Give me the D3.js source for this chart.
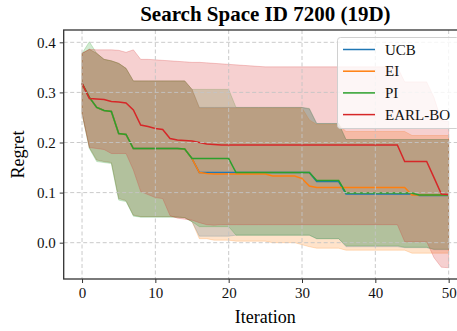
<!DOCTYPE html>
<html>
<head>
<meta charset="utf-8">
<script src="https://cdn.jsdelivr.net/npm/d3@7"></script>
<style>
  body { margin: 0; background: #fff; }
  svg { display: block; font-family: "Liberation Serif", "Times New Roman", serif; }
</style>
</head>
<body>
<svg id="chart" width="457" height="331"></svg>
<script>
// iterations 0..50
const iterations = d3.range(0, 51);
const xTicks = [0, 10, 20, 30, 40, 50];
const yTicks = [0.0, 0.1, 0.2, 0.3, 0.4];
const seriesNames = ['UCB', 'EI', 'PI', 'EARL-BO'];
const seriesColors = ['#1f77b4', '#ff7f0e', '#2ca02c', '#d62728'];

// mean regret per iteration
const ucbMean = [0.318,0.290,0.270,0.264,0.262,0.218,0.216,0.188,0.188,0.188,0.188,0.188,0.188,0.188,0.187,
  0.168,0.140,0.140,0.140,0.140,0.140,0.140,0.140,0.140,0.140,0.140,0.140,0.140,0.140,0.140,0.140,0.140,
  0.122,0.122,0.122,0.122,0.097,0.097,0.097,0.097,0.097,0.097,0.097,0.097,0.097,0.097,0.094,0.094,0.094,0.094,0.094];
const eiMean = [0.318,0.290,0.270,0.264,0.262,0.218,0.216,0.188,0.188,0.188,0.188,0.188,0.188,0.188,0.187,
  0.168,0.140,0.138,0.137,0.137,0.137,0.137,0.137,0.137,0.137,0.137,0.133,0.133,0.133,0.133,0.128,0.113,
  0.110,0.110,0.110,0.110,0.110,0.110,0.110,0.110,0.110,0.110,0.110,0.110,0.110,0.095,0.095,0.095,0.095,0.095,0.095];
const piMean = [0.318,0.290,0.270,0.264,0.262,0.218,0.216,0.188,0.188,0.188,0.188,0.188,0.188,0.188,0.187,
  0.168,0.168,0.168,0.168,0.168,0.168,0.140,0.140,0.140,0.140,0.140,0.140,0.140,0.140,0.140,0.140,0.140,
  0.124,0.124,0.124,0.124,0.099,0.099,0.099,0.099,0.099,0.099,0.099,0.099,0.099,0.099,0.095,0.095,0.095,0.095,0.095];
const earlMean = [0.318,0.288,0.287,0.286,0.282,0.281,0.279,0.265,0.235,0.232,0.228,0.226,0.208,0.205,0.204,
  0.203,0.200,0.197,0.196,0.195,0.195,0.195,0.195,0.195,0.195,0.195,0.195,0.195,0.195,0.195,0.195,0.195,
  0.195,0.195,0.195,0.195,0.195,0.195,0.195,0.195,0.195,0.195,0.195,0.195,0.162,0.162,0.162,0.162,0.130,0.097,0.096];

// upper edge of shaded band
const ucbHigh = [0.378,0.386,0.378,0.366,0.363,0.358,0.348,0.323,0.323,0.323,0.323,0.323,0.323,0.323,0.323,
  0.306,0.270,0.270,0.270,0.270,0.270,0.270,0.270,0.270,0.270,0.270,0.270,0.270,0.270,0.270,0.270,0.267,
  0.238,0.238,0.238,0.238,0.206,0.206,0.206,0.206,0.206,0.206,0.206,0.206,0.206,0.206,0.206,0.206,0.206,0.206,0.206];
const eiHigh = [0.378,0.386,0.378,0.366,0.363,0.358,0.348,0.323,0.323,0.323,0.323,0.323,0.323,0.323,0.323,
  0.306,0.269,0.269,0.269,0.269,0.269,0.269,0.269,0.269,0.269,0.269,0.269,0.269,0.269,0.269,0.269,0.245,
  0.236,0.236,0.236,0.236,0.222,0.222,0.222,0.222,0.222,0.222,0.222,0.222,0.222,0.214,0.214,0.214,0.214,0.214,0.214];
const piHigh = [0.378,0.401,0.378,0.366,0.363,0.358,0.348,0.323,0.323,0.323,0.323,0.323,0.323,0.323,0.323,
  0.306,0.306,0.306,0.306,0.306,0.306,0.270,0.270,0.270,0.270,0.270,0.270,0.270,0.270,0.270,0.270,0.268,
  0.238,0.238,0.238,0.238,0.206,0.206,0.206,0.206,0.206,0.206,0.206,0.206,0.206,0.206,0.206,0.206,0.206,0.206,0.206];
const earlHigh = [0.378,0.386,0.385,0.385,0.385,0.384,0.380,0.385,0.366,0.366,0.365,0.364,0.363,0.362,0.361,
  0.360,0.360,0.359,0.358,0.357,0.356,0.355,0.354,0.353,0.352,0.351,0.351,0.351,0.351,0.351,0.351,0.351,
  0.351,0.351,0.351,0.351,0.351,0.351,0.351,0.351,0.351,0.351,0.351,0.351,0.321,0.321,0.321,0.321,0.290,0.244,0.242];

// lower edge of shaded band
const ucbLow = [0.258,0.190,0.165,0.162,0.160,0.088,0.084,0.055,0.052,0.052,0.052,0.052,0.052,0.051,0.050,
  0.042,0.013,0.013,0.013,0.013,0.013,0.015,0.015,0.015,0.015,0.015,0.015,0.015,0.015,0.015,0.015,0.015,
  0.008,0.008,0.008,0.008,-0.008,-0.008,-0.008,-0.008,-0.008,-0.008,-0.008,-0.008,-0.010,-0.010,-0.010,-0.010,-0.014,-0.014,-0.014];
const eiLow = [0.258,0.190,0.165,0.162,0.160,0.088,0.084,0.055,0.052,0.052,0.052,0.052,0.052,0.051,0.050,
  0.042,0.008,0.008,0.005,0.005,0.005,0.003,0.003,0.003,0.003,0.003,0.000,0.000,0.000,0.000,-0.004,-0.008,
  -0.011,-0.011,-0.011,-0.011,-0.015,-0.015,-0.015,-0.015,-0.015,-0.015,-0.015,-0.015,-0.015,-0.021,-0.021,-0.021,-0.021,-0.021,-0.021];
const piLow = [0.258,0.188,0.162,0.160,0.158,0.085,0.082,0.053,0.051,0.051,0.051,0.051,0.051,0.051,0.050,
  0.042,0.032,0.032,0.032,0.032,0.032,0.015,0.015,0.015,0.015,0.015,0.015,0.015,0.015,0.015,0.015,0.015,
  0.008,0.008,0.008,0.008,-0.006,-0.006,-0.006,-0.006,-0.006,-0.006,-0.006,-0.006,-0.009,-0.009,-0.009,-0.009,-0.013,-0.013,-0.013];
const earlLow = [0.258,0.190,0.188,0.186,0.178,0.178,0.178,0.145,0.102,0.096,0.090,0.088,0.054,0.049,0.047,
  0.045,0.040,0.036,0.035,0.036,0.036,0.036,0.036,0.036,0.036,0.036,0.036,0.036,0.036,0.036,0.036,0.036,
  0.036,0.036,0.036,0.036,0.036,0.036,0.036,0.036,0.036,0.036,0.036,0.036,0.002,0.002,0.002,0.002,-0.030,-0.049,-0.050];

const means = [ucbMean, eiMean, piMean, earlMean];
const highs = [ucbHigh, eiHigh, piHigh, earlHigh];
const lows = [ucbLow, eiLow, piLow, earlLow];

let svg = d3.select('#chart');
let plotLeft = 63.7, plotRight = 467, plotTop = 30, plotBottom = 279;

let x = d3.scaleLinear().domain([-2.5, 52.5]).range([plotLeft, plotRight]);
let y = d3.scaleLinear().domain([-0.0725, 0.4246]).range([plotBottom, plotTop]);

svg.append('rect').attr('width', 457).attr('height', 331).attr('fill', '#fff');

svg.append('defs').append('clipPath').attr('id', 'plot')
  .append('rect').attr('x', plotLeft).attr('y', plotTop)
  .attr('width', plotRight - plotLeft).attr('height', plotBottom - plotTop);

let plot = svg.append('g').attr('clip-path', 'url(#plot)');

// shaded bands first, same order as the lines
seriesNames.forEach(function(name, s) {
  let area = d3.area()
    .x(function(d) { return x(d); })
    .y0(function(d) { return y(lows[s][d]); })
    .y1(function(d) { return y(highs[s][d]); });
  plot.append('path')
    .datum(iterations)
    .attr('d', area)
    .attr('fill', seriesColors[s])
    .attr('fill-opacity', 0.22)
    .attr('stroke', seriesColors[s])
    .attr('stroke-opacity', 0.22)
    .attr('stroke-width', 1);
});

// dashed grid above the fills
let grid = svg.append('g').attr('stroke', '#c4c4c4').attr('stroke-width', 0.9).attr('stroke-dasharray', '4,2.5');
xTicks.forEach(function(t) {
  grid.append('line').attr('x1', x(t)).attr('x2', x(t)).attr('y1', plotTop).attr('y2', plotBottom);
});
yTicks.forEach(function(t) {
  grid.append('line').attr('x1', plotLeft).attr('x2', plotRight).attr('y1', y(t)).attr('y2', y(t));
});

seriesNames.forEach(function(name, s) {
  let line = d3.line()
    .x(function(d) { return x(d); })
    .y(function(d) { return y(means[s][d]); });
  plot.append('path')
    .datum(iterations)
    .attr('d', line)
    .attr('fill', 'none')
    .attr('stroke', seriesColors[s])
    .attr('stroke-width', 1.5);
});

// axes
let xAxis = svg.append('g').attr('transform', 'translate(0,' + plotBottom + ')')
  .call(d3.axisBottom(x).tickValues(xTicks).tickSize(4).tickPadding(4).tickFormat(d3.format('d')));
let yAxis = svg.append('g').attr('transform', 'translate(' + plotLeft + ',0)')
  .call(d3.axisLeft(y).tickValues(yTicks).tickSize(4).tickPadding(4).tickFormat(d3.format('.1f')));
[xAxis, yAxis].forEach(function(a) {
  a.select('.domain').remove();
  a.selectAll('.tick line').attr('stroke', '#333').attr('stroke-width', 1);
  a.selectAll('.tick text').attr('fill', '#111').style('font-size', '15px')
    .style('font-family', '"Liberation Serif", serif');
});

// spines
svg.append('rect')
  .attr('x', plotLeft).attr('y', plotTop)
  .attr('width', plotRight - plotLeft).attr('height', plotBottom - plotTop)
  .attr('fill', 'none').attr('stroke', '#333').attr('stroke-width', 1.3);

svg.append('text')
  .attr('x', (plotLeft + plotRight) / 2).attr('y', 21)
  .attr('text-anchor', 'middle')
  .attr('style', 'font-size: 21px; font-weight: bold;')
  .text('Search Space ID 7200 (19D)');

svg.append('text')
  .attr('x', (plotLeft + plotRight) / 2).attr('y', 323)
  .attr('text-anchor', 'middle')
  .attr('style', 'font-size: 18px;')
  .text('Iteration');

svg.append('text')
  .attr('transform', 'translate(24,' + ((plotTop + plotBottom) / 2) + ') rotate(-90)')
  .attr('text-anchor', 'middle')
  .attr('style', 'font-size: 18px;')
  .text('Regret');

// legend
let legend = svg.append('g');
legend.append('rect')
  .attr('x', 337.5).attr('y', 37.5).attr('width', 122).attr('height', 91)
  .attr('rx', 3)
  .attr('fill', '#fff').attr('fill-opacity', 0.8)
  .attr('stroke', '#d0d0d0').attr('stroke-width', 1);
seriesNames.forEach(function(name, s) {
  let yy = 49.5 + s * 21.7;
  legend.append('line')
    .attr('x1', 343).attr('x2', 375)
    .attr('y1', yy).attr('y2', yy)
    .attr('stroke', seriesColors[s]).attr('stroke-width', 1.5);
  legend.append('text')
    .attr('x', 385).attr('y', yy + 5)
    .attr('style', 'font-size: 15px;')
    .attr('fill', '#111')
    .text(name);
});
</script>
</body>
</html>
